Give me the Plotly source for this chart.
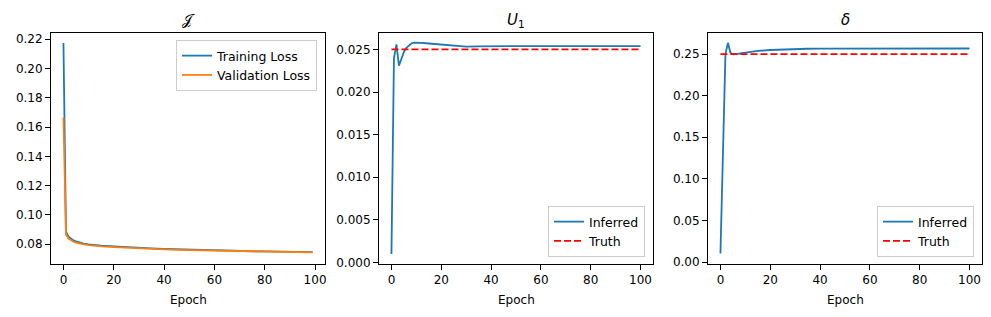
import plotly.graph_objects as go

# ---------------- data ----------------
loss_epochs = [0, 1, 2, 3, 4, 5, 6, 7, 8, 10, 12, 15, 20, 25, 30, 35, 40, 45, 50,
               55, 60, 65, 70, 75, 80, 85, 90, 95, 99]
train_loss = [0.2175, 0.0885, 0.0850, 0.0835, 0.0825, 0.0818, 0.0812, 0.0808, 0.0804,
              0.0798, 0.0794, 0.0790, 0.0785, 0.0779, 0.0775, 0.0771, 0.0768, 0.0765,
              0.0762, 0.0760, 0.0757, 0.0755, 0.0753, 0.0751, 0.0750, 0.0748, 0.0747,
              0.0746, 0.0745]
val_loss = [0.1665, 0.0865, 0.0838, 0.0825, 0.0816, 0.0810, 0.0805, 0.0801, 0.0798,
            0.0793, 0.0789, 0.0784, 0.0779, 0.0774, 0.0770, 0.0767, 0.0764, 0.0761,
            0.0759, 0.0757, 0.0755, 0.0753, 0.0751, 0.0750, 0.0749, 0.0747, 0.0746,
            0.0745, 0.0744]

u1_epochs = [0, 1, 2, 3, 4, 5, 6, 7, 8, 9, 10, 12, 15, 20, 25, 30, 35, 40, 45, 50,
             51, 55, 60, 70, 80, 90, 100]
u1_inferred = [0.0010, 0.0240, 0.0256, 0.0231, 0.0239, 0.0247, 0.0252, 0.0255, 0.0257,
               0.0258, 0.0258, 0.02578, 0.0257, 0.02555, 0.0254, 0.02533, 0.02535,
               0.02538, 0.0254, 0.02548, 0.0254, 0.0254, 0.0254, 0.0254, 0.0254,
               0.0254, 0.0254]
u1_truth = 0.025

delta_epochs = [0, 1, 2, 3, 4, 5, 6, 7, 8, 10, 12, 15, 20, 25, 30, 35, 40, 50, 60,
                70, 80, 90, 100]
delta_inferred = [0.0104, 0.14, 0.25, 0.2635, 0.2515, 0.2497, 0.2497, 0.2502, 0.2508,
                  0.2518, 0.2527, 0.2537, 0.2549, 0.2556, 0.2561, 0.2564, 0.2566,
                  0.2567, 0.2567, 0.2567, 0.2567, 0.2567, 0.2567]
delta_truth = 0.25

titles = ["𝒥", "<i>U</i><sub>1</sub>", "<i>δ</i>"]
x_label = "Epoch"

# ---------------- layout helpers ----------------
W, H = 991, 317
BLUE, ORANGE, RED = "#1f77b4", "#ff7f0e", "#ff0000"
FONT = "DejaVu Sans"

panels_px = [(51, 325), (379, 653), (708, 982)]
y_top, y_bot = 33, 264
ydom = [1 - y_bot / H, 1 - y_top / H]

fig = go.Figure()

# Panel 1
fig.add_trace(go.Scatter(x=loss_epochs, y=train_loss, mode="lines", name="Training Loss",
                         line=dict(color=BLUE, width=1.8), xaxis="x", yaxis="y",
                         legend="legend"))
fig.add_trace(go.Scatter(x=loss_epochs, y=val_loss, mode="lines", name="Validation Loss",
                         line=dict(color=ORANGE, width=1.8), xaxis="x", yaxis="y",
                         legend="legend"))
# Panel 2
fig.add_trace(go.Scatter(x=u1_epochs, y=u1_inferred, mode="lines", name="Inferred",
                         line=dict(color=BLUE, width=1.8), xaxis="x2", yaxis="y2",
                         legend="legend2"))
fig.add_trace(go.Scatter(x=[u1_epochs[0], u1_epochs[-1]], y=[u1_truth, u1_truth],
                         mode="lines", name="Truth",
                         line=dict(color=RED, width=1.8, dash="7px,3px"),
                         xaxis="x2", yaxis="y2", legend="legend2"))
# Panel 3
fig.add_trace(go.Scatter(x=delta_epochs, y=delta_inferred, mode="lines", name="Inferred",
                         line=dict(color=BLUE, width=1.8), xaxis="x3", yaxis="y3",
                         legend="legend3"))
fig.add_trace(go.Scatter(x=[delta_epochs[0], delta_epochs[-1]], y=[delta_truth, delta_truth],
                         mode="lines", name="Truth",
                         line=dict(color=RED, width=1.8, dash="7px,3px"),
                         xaxis="x3", yaxis="y3", legend="legend3"))

axis_common = dict(showline=True, linecolor="black", linewidth=1, mirror=True,
                   ticks="outside", ticklen=5, tickwidth=1, tickcolor="black",
                   showgrid=False, zeroline=False, automargin=False,
                   tickfont=dict(family=FONT, size=12, color="black"))

xranges = [[-4.95, 103.95], [-5, 105], [-5, 105]]
yranges = [[0.0664, 0.2243], [-0.00018, 0.02693], [-0.0023, 0.2753]]
ytickvals = [[0.08, 0.10, 0.12, 0.14, 0.16, 0.18, 0.20, 0.22],
             [0.0, 0.005, 0.010, 0.015, 0.020, 0.025],
             [0.0, 0.05, 0.10, 0.15, 0.20, 0.25]]
yfmt = [".2f", ".3f", ".2f"]

layout = dict(width=W, height=H, margin=dict(l=0, r=0, t=0, b=0),
              paper_bgcolor="white", plot_bgcolor="white",
              font=dict(family=FONT, size=12, color="black"))
annotations = []
for i, (x0, x1) in enumerate(panels_px):
    sfx = "" if i == 0 else str(i + 1)
    layout["xaxis" + sfx] = dict(axis_common, domain=[x0 / W, x1 / W], range=xranges[i],
                                 tickvals=[0, 20, 40, 60, 80, 100],
                                 anchor="y" + sfx)
    layout["yaxis" + sfx] = dict(axis_common, domain=ydom, range=yranges[i],
                                 tickvals=ytickvals[i], tickformat=yfmt[i],
                                 anchor="x" + sfx)
    cx = (x0 + x1) / 2 / W
    annotations.append(dict(text=titles[i], x=cx, y=1 - 20 / H, xref="paper", yref="paper",
                            showarrow=False, xanchor="center", yanchor="middle",
                            font=dict(family=FONT, size=15, color="black")))
    annotations.append(dict(text=x_label, x=cx, y=1 - 300 / H, xref="paper", yref="paper",
                            showarrow=False, xanchor="center", yanchor="middle",
                            font=dict(family=FONT, size=12, color="black")))
layout["annotations"] = annotations

leg_common = dict(bgcolor="rgba(255,255,255,0.8)", bordercolor="#cccccc", borderwidth=1,
                  font=dict(family=FONT, size=12.5, color="black"), itemwidth=30,
                  xref="paper", yref="paper", tracegroupgap=0)
layout["legend"] = dict(leg_common, x=317 / W, y=1 - 40 / H, xanchor="right", yanchor="top")
layout["legend2"] = dict(leg_common, x=645 / W, y=1 - 257 / H, xanchor="right", yanchor="bottom")
layout["legend3"] = dict(leg_common, x=974 / W, y=1 - 257 / H, xanchor="right", yanchor="bottom")

fig.update_layout(**layout)
fig.write_html("out.html", config={"displayModeBar": False},
               post_script="document.body.style.margin='0';document.body.style.padding='0';")
